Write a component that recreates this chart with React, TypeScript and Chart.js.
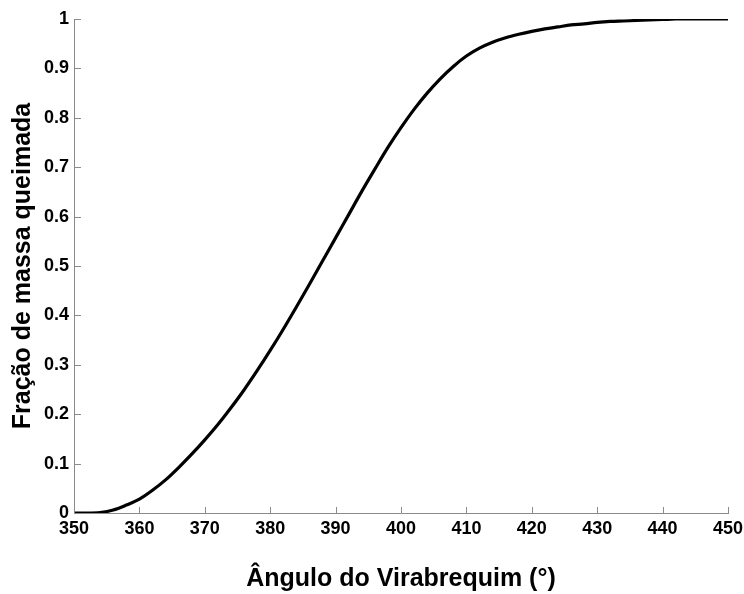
import React, { useEffect, useRef } from "react";
import { Chart, registerables } from "chart.js";

Chart.register(...registerables);

const angles: number[] = [
  350, 352, 354, 356, 358, 360, 362, 364, 366, 368, 370, 372, 374, 376, 378, 380,
  382, 384, 386, 388, 390, 392, 394, 396, 398, 400, 402, 404, 406, 408, 410, 412,
  414, 416, 418, 420, 422, 424, 426, 428, 430, 432, 434, 436, 438, 440, 442, 444,
  446, 448, 450,
];

const burnedFraction: number[] = [
  0, 0, 0.001, 0.006, 0.016, 0.028, 0.046, 0.067, 0.092, 0.119, 0.148, 0.179, 0.213,
  0.249, 0.288, 0.329, 0.372, 0.417, 0.463, 0.51, 0.557, 0.604, 0.651, 0.696, 0.74,
  0.78, 0.817, 0.85, 0.879, 0.904, 0.925, 0.941, 0.953, 0.962, 0.969, 0.975, 0.98,
  0.984, 0.988, 0.99, 0.993, 0.995, 0.996, 0.997, 0.998, 0.999, 1.0, 1.0, 1.0, 1.0, 1.0,
];

const xTickStep = 10;
const yTickStep = 0.1;
const xTitle = "Ângulo do Virabrequim (°)";
const yTitle = "Fração de massa queimada";

const FONT = "'Liberation Sans', Arial, sans-serif";
const AXIS_GREY = "#8a8a8a";

const inwardTicks = {
  id: "inwardTicks",
  afterDraw(chart: any) {
    const { ctx, chartArea } = chart;
    const xs = chart.scales.x;
    const ys = chart.scales.y;
    ctx.save();
    ctx.strokeStyle = AXIS_GREY;
    ctx.lineWidth = 1;
    ctx.beginPath();
    xs.ticks.forEach((t: any) => {
      const px = Math.round(xs.getPixelForValue(t.value)) + 0.5;
      ctx.moveTo(px, chartArea.bottom);
      ctx.lineTo(px, chartArea.bottom - 6);
    });
    ys.ticks.forEach((t: any) => {
      const py = Math.round(ys.getPixelForValue(t.value)) + 0.5;
      ctx.moveTo(chartArea.left, py);
      ctx.lineTo(chartArea.left + 7, py);
    });
    ctx.stroke();
    ctx.restore();
  },
};

export default function App() {
  const canvasRef = useRef<HTMLCanvasElement | null>(null);

  useEffect(() => {
    if (!canvasRef.current) return;
    const points = angles.map((a, i) => ({ x: a, y: burnedFraction[i] }));
    const chart = new Chart(canvasRef.current, {
      type: "line",
      data: {
        datasets: [
          {
            data: points,
            borderColor: "#000",
            borderWidth: 3.2,
            pointRadius: 0,
            fill: false,
            cubicInterpolationMode: "monotone",
          },
        ],
      },
      options: {
        animation: false,
        responsive: false,
        maintainAspectRatio: false,
        layout: { padding: { top: 19, right: 16, bottom: 0, left: 0 } },
        plugins: { legend: { display: false }, tooltip: { enabled: false } },
        scales: {
          x: {
            type: "linear",
            min: 350,
            max: 450,
            ticks: {
              stepSize: xTickStep,
              color: "#000",
              padding: 5,
              maxRotation: 0,
              font: { family: FONT, size: 18, weight: "bold" },
            },
            grid: { display: true, drawOnChartArea: false, drawTicks: false },
            border: { display: true, color: AXIS_GREY, width: 1 },
            title: {
              display: true,
              text: xTitle,
              color: "#000",
              padding: { top: 0, bottom: 0 },
              font: { family: FONT, size: 25, weight: "bold" },
            },
            afterFit: (s: any) => {
              s.height = 81;
              s.paddingLeft = 0;
              s.paddingRight = 0;
            },
          },
          y: {
            type: "linear",
            min: 0,
            max: 1,
            ticks: {
              stepSize: yTickStep,
              color: "#000",
              padding: 5,
              callback: (v: any) => String(Math.round(Number(v) * 10) / 10),
              font: { family: FONT, size: 18, weight: "bold" },
            },
            grid: { display: true, drawOnChartArea: false, drawTicks: false },
            border: { display: true, color: AXIS_GREY, width: 1 },
            title: {
              display: true,
              text: yTitle,
              color: "#000",
              padding: { top: 8, bottom: 0 },
              font: { family: FONT, size: 25, weight: "bold" },
            },
            afterFit: (s: any) => {
              s.width = 74;
              s.paddingTop = 0;
              s.paddingBottom = 0;
            },
          },
        },
      },
      plugins: [inwardTicks],
    } as any);
    return () => chart.destroy();
  }, []);

  return (
    <div style={{ position: "fixed", left: 0, top: 0, width: 744, height: 594, background: "#fff" }}>
      <canvas ref={canvasRef} width={744} height={594} />
    </div>
  );
}
